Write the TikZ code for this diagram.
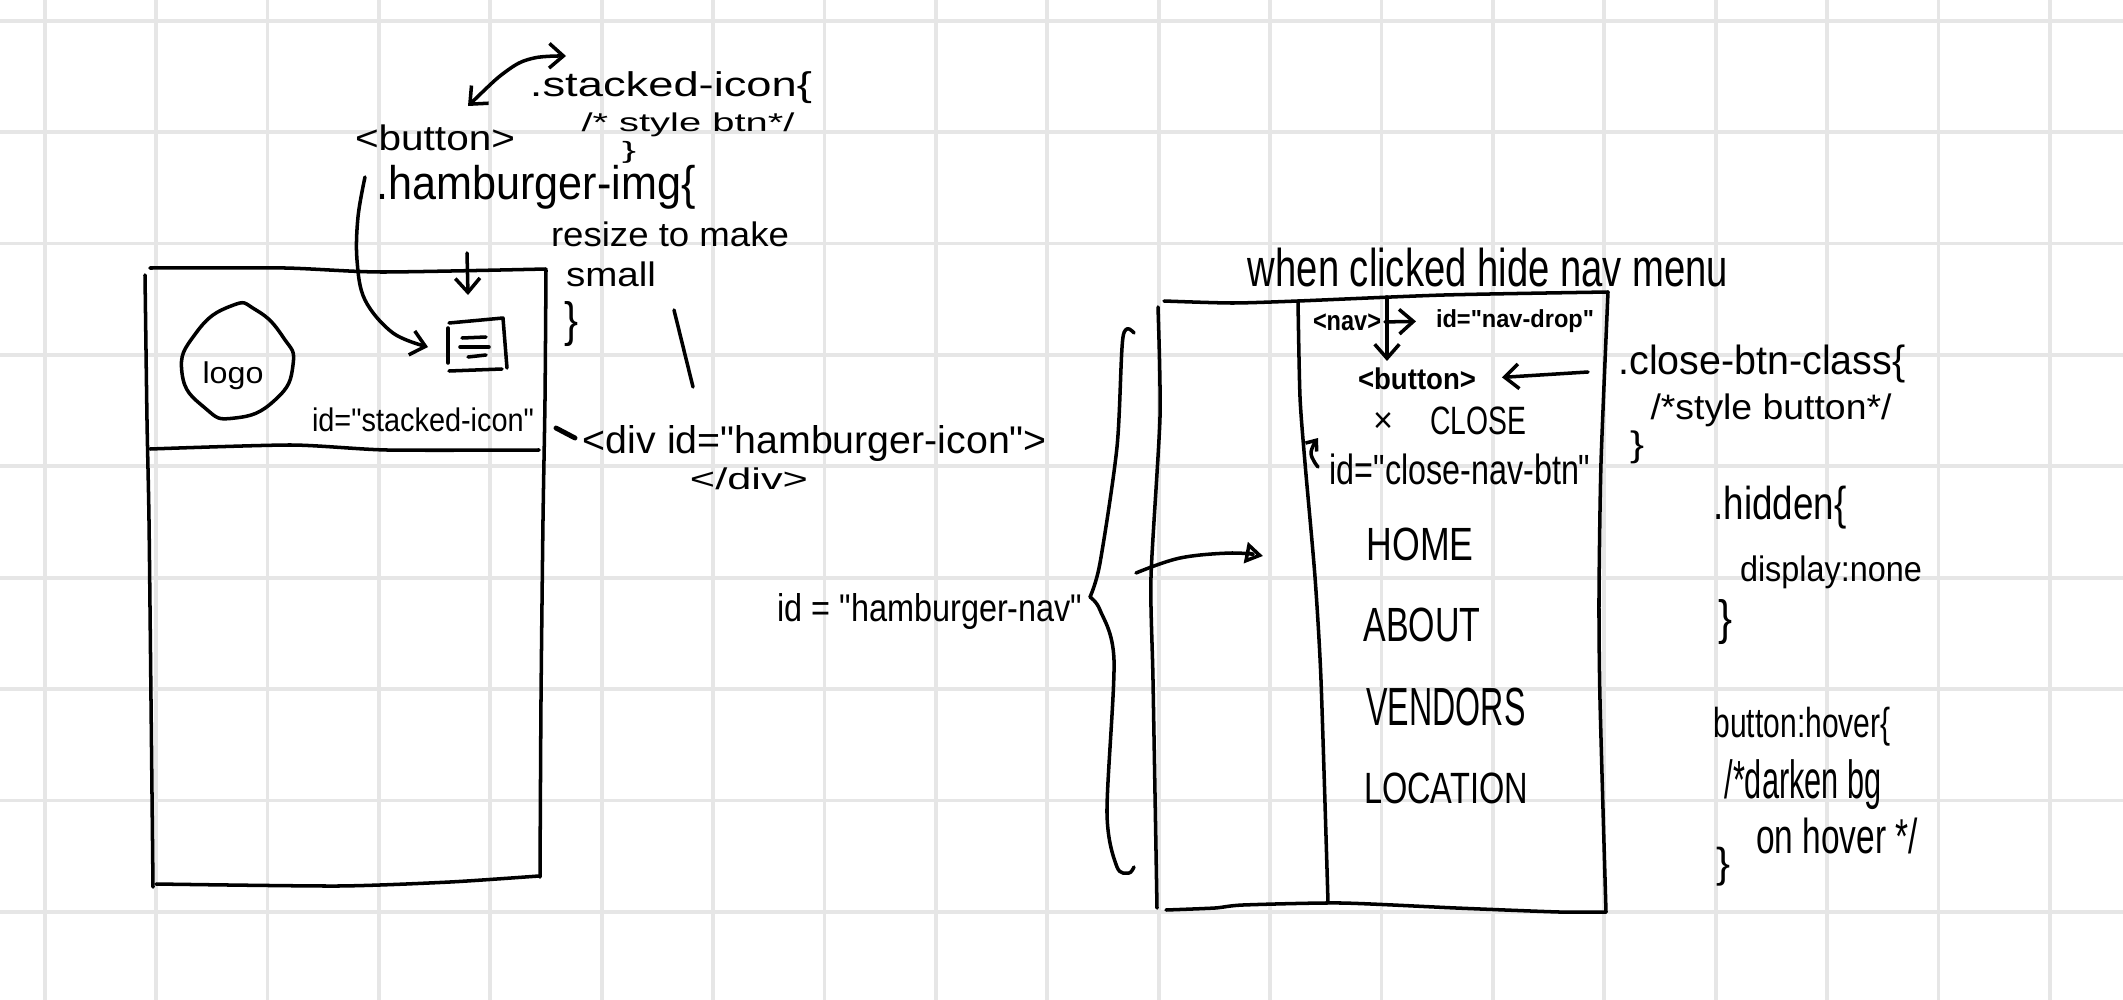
\documentclass[tikz,border=0pt]{standalone}
\usepackage{fontspec}
\usepackage{graphicx}
\setmainfont{Liberation Sans}[Ligatures=TeXOff]
\usetikzlibrary{arrows.meta}
\definecolor{gridgray}{HTML}{E6E6E6}
\newlength\px
\setlength\px{0.01cm}
% width, height, text: the handwriting has no fixed size
\newcommand{\hw}[3]{\resizebox*{#1\px}{#2\px}{#3}}
\tikzset{
  pen/.style={line width=1pt,line cap=round,line join=round},
  penarrow/.style={pen,-{Straight Barb[length=4pt,width=7pt]}},
  txt/.style={inner sep=0pt,outer sep=0pt}
}
\begin{document}
\begin{tikzpicture}[x=0.01cm,y=-0.01cm]
\useasboundingbox (0,0) rectangle (2123,1000);
\fill[white] (0,0) rectangle (2123,1000);

\foreach \k in {0,...,18}{
\draw [gridgray, line width=1.1pt] (44.7+\k*111.4,0) -- (44.7+\k*111.4,1000);
}
\foreach \k in {0,...,8}{
\draw [gridgray, line width=1.1pt] (0,20.7+\k*111.4) -- (2123,20.7+\k*111.4);
}

% left phone
\draw[pen] plot[smooth,tension=0.4] coordinates {(150,268) (285,268) (381,272) (546,269)};
\draw[pen] plot[smooth,tension=0.4] coordinates {(145,275) (147,420) (149,520) (151,700) (153,887)};
\draw[pen] plot[smooth,tension=0.4] coordinates {(546,270) (545,400) (543,520) (541,700) (540,877)};
\draw[pen] plot[smooth,tension=0.4] coordinates {(156,884) (338,886) (450,882) (539,876)};
\draw[pen] plot[smooth,tension=0.4] coordinates {(150,449) (291,445) (387,450) (539,450)};

% logo
\draw[pen] plot[smooth cycle,tension=0.9] coordinates {(231,306) (256,310) (283,337) (293,365) (275,400) (235,418) (205,408) (182,373) (196,333)};
\node[txt] (logo) at (233,376) {\hw{61}{28}{logo}};

% hamburger icon
\draw[pen] (449,323) -- (503,318) -- (507,368);
\draw[pen] (448,328) -- (448,363);
\draw[pen] (449,371) -- (502,369);
\draw[pen] (462,338) -- (486,337);
\draw[pen] (460,347) -- (489,347);
\draw[pen] (468,357) -- (486,355);

\coordinate (iconup) at (467,253);
\coordinate (icondown) at (468,295);
\draw[penarrow] (iconup) -- (icondown);
\draw[penarrow] plot[smooth,tension=0.6] coordinates {(365,177) (358,217) (357,260) (365,300) (393,333) (428,347)};
\draw[penarrow,{Straight Barb[length=4pt,width=7pt]}-{Straight Barb[length=4pt,width=7pt]}] plot[smooth,tension=0.6] coordinates {(468,106) (508,70) (534,58) (566,56)};

% stray strokes
\draw[pen] (674,310) -- (693,387);
\draw[pen,line width=1.4pt] (556,428) -- (575,438);

% text on the left
\node[txt] (stackedcss) at (671,88) {\hw{282}{32}{.stacked-icon\{}};
\node[txt] (stylebtn) at (688,125) {\hw{213}{24}{/* style btn*/}};
\node[txt] (bracea) at (629,152.5) {\hw{14}{22}{\}}};
\node[txt] (buttona) at (435,138) {\hw{160}{26}{<button>}};
\node[txt] (hamburgerimg) at (536,187) {\hw{319}{44}{.hamburger-img\{}};
\node[txt] (resize) at (670,234) {\hw{238}{25}{resize to make}};
\node[txt] (small) at (611,274) {\hw{90}{25}{small}};
\node[txt] (braceb) at (571,324) {\hw{14}{45}{\}}};
\node[txt] (stackedid) at (423,420) {\hw{222}{24}{id="stacked-icon"}};
\node[txt] (divopen) at (815,444) {\hw{464}{36}{<div id="hamburger-icon">}};
\node[txt] (divclose) at (749,479) {\hw{118}{22}{</div>}};
\node[txt] (navid) at (930,612) {\hw{305}{36}{id = "hamburger-nav"}};

% right phone
\draw[pen] plot[smooth,tension=0.4] coordinates {(1164,301) (1232,303) (1298,301) (1444,295) (1608,292)};
\draw[pen] plot[smooth,tension=0.4] coordinates {(1158,307) (1160,417) (1151,577) (1153,680) (1157,908)};
\draw[pen] plot[smooth,tension=0.4] coordinates {(1298,301) (1300,397) (1305,463) (1315,577) (1321,680) (1328,902)};
\draw[pen] plot[smooth,tension=0.4] coordinates {(1608,292) (1601,463) (1599,597) (1600,700) (1606,912)};
\draw[pen] plot[smooth,tension=0.4] coordinates {(1166,910) (1215,908) (1243,905) (1341,903) (1456,908) (1559,912) (1606,912)};

% long bracket
\draw[pen] plot[smooth,tension=0.5] coordinates {(1134,333) (1123,337) (1117,447) (1100,563) (1090,597)};
\draw[pen] plot[smooth,tension=0.5] coordinates {(1090,597) (1100,610) (1114,660) (1107,813) (1117,867) (1129,873) (1134,867)};
\draw[pen,-{Triangle[open,length=5pt,width=6pt]}] plot[smooth,tension=0.6] coordinates {(1136,573) (1180,558) (1232,553) (1263,556)};

% text on the right
\node[txt] (when) at (1488,268) {\hw{480}{39}{when clicked hide nav menu}};
\node[txt] (navtag) at (1347,322) {\hw{68}{17}{\bfseries <nav>}};
\node[txt] (navdrop) at (1515,321) {\hw{158}{23}{\bfseries id="nav-drop"}};
\node[txt] (buttonb) at (1417,379) {\hw{118}{22}{\bfseries <button>}};
\node[txt] (closecss) at (1762,364) {\hw{287}{38}{.close-btn-class\{}};
\node[txt] (stylebutton) at (1771,410) {\hw{241}{33}{/*style button*/}};
\node[txt] (bracec) at (1637,447) {\hw{14}{33}{\}}};
\node[txt] (closex) at (1383,422) {\hw{20}{20}{×}};
\node[txt] (close) at (1478,421) {\hw{96}{28}{CLOSE}};
\node[txt] (closeid) at (1460,469) {\hw{261}{31}{id="close-nav-btn"}};
\node[txt] (home) at (1420,544) {\hw{107}{33}{HOME}};
\node[txt] (about) at (1422,625) {\hw{117}{34}{ABOUT}};
\node[txt] (vendors) at (1446,707) {\hw{159}{38}{VENDORS}};
\node[txt] (location) at (1446,788) {\hw{164}{31}{LOCATION}};
\node[txt] (hidden) at (1780,508) {\hw{133}{43}{.hidden\{}};
\node[txt] (display) at (1831,572) {\hw{182}{33}{display:none}};
\node[txt] (braced) at (1725,622) {\hw{14}{45}{\}}};
\node[txt] (hover) at (1802,727) {\hw{177}{39}{button:hover\{}};
\node[txt] (darken) at (1803,785) {\hw{157}{50}{/*darken bg}};
\node[txt] (onhover) at (1837,836) {\hw{162}{36}{on hover */}};
\node[txt] (bracee) at (1723,867) {\hw{14}{39}{\}}};

% arrows inside the right phone
\coordinate (navtop) at (1387,297);
\coordinate (closetail) at (1588,372);
\draw[penarrow,shorten <=0.04cm,shorten >=0.2cm] (navtag.east) -- (navdrop.west);
\draw[penarrow,shorten >=0.07cm] (navtop) -- (navtop |- buttonb.north);
\draw[penarrow,shorten >=0.26cm] (closetail) -- (buttonb.east);
\draw[pen,-{Straight Barb[length=2.5pt,width=4pt]}] plot[smooth,tension=0.7] coordinates {(1318,467) (1311,453) (1318,438)};
\end{tikzpicture}
\end{document}
